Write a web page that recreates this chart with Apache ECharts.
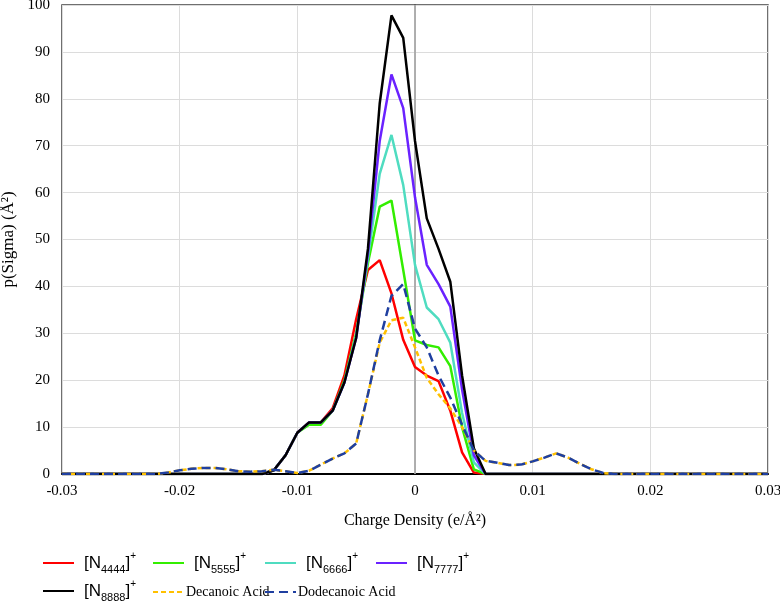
<!DOCTYPE html>
<html>
<head>
<meta charset="utf-8">
<script src="https://cdn.jsdelivr.net/npm/echarts@6/dist/echarts.min.js"></script>
<style>html,body{margin:0;padding:0;background:#fff}#c{width:780px;height:605px}</style>
</head>
<body>
<div id="c"></div>
<script>
// Charge density (e/Å²)
const sigma = [-0.030,-0.029,-0.028,-0.027,-0.026,-0.025,-0.024,-0.023,-0.022,-0.021,
  -0.020,-0.019,-0.018,-0.017,-0.016,-0.015,-0.014,-0.013,-0.012,-0.011,
  -0.010,-0.009,-0.008,-0.007,-0.006,-0.005,-0.004,-0.003,-0.002,-0.001,
  0.000,0.001,0.002,0.003,0.004,0.005,0.006,0.007,0.008,0.009,
  0.010,0.011,0.012,0.013,0.014,0.015,0.016,0.017,0.018,0.019,
  0.020,0.021,0.022,0.023,0.024,0.025,0.026,0.027,0.028,0.029,0.030];

const seriesNames = ['N4444','N5555','N6666','N7777','N8888','Decanoic Acid','Dodecanoic Acid'];

const n4444 = [0,0,0,0,0,0,0,0,0,0, 0,0,0,0,0,0,0,0,0.8,4,
  8.8,11,11,14,21,33,43.5,45.6,38.5,28.6,
  22.8,21,19.8,13.5,4.6,0.3,0,0,0,0, 0,0,0,0,0,0,0,0,0,0, 0,0,0,0,0,0,0,0,0,0,0];
const n5555 = [0,0,0,0,0,0,0,0,0,0, 0,0,0,0,0,0,0,0,0.8,4,
  8.8,10.5,10.5,13.5,20,30,45,57,58.3,43.5,
  28.5,27.5,27,23,10,1,0,0,0,0, 0,0,0,0,0,0,0,0,0,0, 0,0,0,0,0,0,0,0,0,0,0];
const n6666 = [0,0,0,0,0,0,0,0,0,0, 0,0,0,0,0,0,0,0,0.8,4,
  8.8,11,11,13.5,19.5,29.5,46,64,72.3,61.6,
  44.6,35.5,33,28,13,2.5,0,0,0,0, 0,0,0,0,0,0,0,0,0,0, 0,0,0,0,0,0,0,0,0,0,0];
const n7777 = [0,0,0,0,0,0,0,0,0,0, 0,0,0,0,0,0,0,0,0.8,4,
  8.8,11,11,13.5,19.5,29,47,71,85.2,78,
  59,44.6,40.5,35.7,18,4,0,0,0,0, 0,0,0,0,0,0,0,0,0,0, 0,0,0,0,0,0,0,0,0,0,0];
const n8888 = [0,0,0,0,0,0,0,0,0,0, 0,0,0,0,0,0,0,0,0.8,4,
  8.8,11,11,13.5,19.5,29,48,79,97.8,93,
  71,54.5,48,41,21,5.5,0,0,0,0, 0,0,0,0,0,0,0,0,0,0, 0,0,0,0,0,0,0,0,0,0,0];
const decanoic = [0,0,0,0,0,0,0,0,0,0.3, 0.8,1.1,1.3,1.3,1.0,0.6,0.5,0.6,0.9,0.6,
  0.2,0.7,2.0,3.3,4.4,6.5,17,28,32.8,33.3,
  27,20.5,17,14,10,5,2.8,2.4,1.9,2.0, 2.7,3.5,4.4,3.5,2.2,1.0,0.2,0,0,0, 0,0,0,0,0,0,0,0,0,0,0];
const dodecanoic = [0,0,0,0,0,0,0,0,0,0.3, 0.8,1.1,1.3,1.3,1.0,0.6,0.5,0.6,0.9,0.6,
  0.2,0.7,2.0,3.3,4.4,6.5,17,28.5,38,40.5,
  31,27,21,16.3,10.5,5,2.8,2.4,1.9,2.0, 2.7,3.5,4.4,3.5,2.2,1.0,0.2,0,0,0, 0,0,0,0,0,0,0,0,0,0,0];

const xTicks = ['-0.03','-0.02','-0.01','0','0.01','0.02','0.03'];

const values = [n4444,n5555,n6666,n7777,n8888,decanoic,dodecanoic];
const colors = ['#ff0000','#33ee00','#4fdcc0','#6a22ff','#000000','#ffc000','#1f3fa0'];
const dashes = ['solid','solid','solid','solid','solid',[5,3],[9,5]];

const serif = '"Liberation Serif","Times New Roman",serif';
const narrow = '"Liberation Sans Narrow","Liberation Sans",Arial,sans-serif';

const chart = echarts.init(document.getElementById('c'), null, {renderer:'canvas'});

const series = seriesNames.map((nm, i) => {
  const s = {
    name: nm, type: 'line', showSymbol: false, symbol: 'none',
    data: sigma.map((x, j) => [x, values[i][j]]),
    lineStyle: {color: colors[i], width: 2.5, type: dashes[i]},
    itemStyle: {color: colors[i]},
    z: 2 + i, animation: false
  };
  if (i === 0) {
    s.markLine = {silent: true, symbol: 'none', label: {show: false},
      lineStyle: {color: '#c4c4c4', width: 1.5, type: 'solid'},
      data: [{xAxis: 0}], z: 1};
  }
  return s;
});

const richLegend = {
  a: {fontFamily: narrow, fontSize: 17, lineHeight: 24, color: '#000'},
  s: {fontFamily: narrow, fontSize: 11, lineHeight: 11, verticalAlign: 'bottom', color: '#000'},
  p: {fontFamily: narrow, fontSize: 10, lineHeight: 10, verticalAlign: 'top', color: '#000'}
};
function ionFmt(name) {
  return '{a|[N}{s|' + name.slice(1) + '}{a|]}{p|+}';
}
const legendPos = [
  {left: 42, top: 551}, {left: 152, top: 551}, {left: 264, top: 551}, {left: 375, top: 551},
  {left: 42, top: 579}, {left: 152, top: 585}, {left: 264, top: 585}
];
const legends = seriesNames.map((nm, i) => {
  const ion = i < 5;
  return {
    data: [nm], left: legendPos[i].left, top: legendPos[i].top,
    orient: 'horizontal', itemWidth: 31, itemHeight: 12, padding: 0,
    selectedMode: false,
    itemStyle: {opacity: 0, borderWidth: 0},
    formatter: ion ? ionFmt : (n => n),
    textStyle: ion ? {fontFamily: narrow, fontSize: 17, color: '#000', rich: richLegend, padding: [0,0,0,5]}
                   : {fontFamily: serif, fontSize: 14, color: '#000', padding: [0,0,0,-3]}
  };
});

chart.setOption({
  animation: false,
  backgroundColor: '#ffffff',
  grid: {left: 62, right: 12, top: 5, bottom: 131, outerBoundsMode: 'none', containLabel: false,
    show: true, borderColor: '#404040', borderWidth: 1.5},
  legend: legends,
  xAxis: {
    type: 'value', min: -0.03, max: 0.03, interval: 0.01,
    name: 'Charge Density (e/Å²)', nameLocation: 'middle', nameGap: 39,
    nameTextStyle: {fontFamily: serif, fontSize: 16, color: '#000'},
    axisLine: {show: true, lineStyle: {color: '#000', width: 2}},
    axisTick: {show: false},
    axisLabel: {fontFamily: serif, fontSize: 15, color: '#000', margin: 10,
      formatter: v => xTicks[Math.round((v + 0.03) / 0.01)]},
    splitLine: {show: true, lineStyle: {color: '#dcdcdc', width: 1}}
  },
  yAxis: {
    type: 'value', min: 0, max: 100, interval: 10,
    name: 'p(Sigma) (Å²)', nameLocation: 'middle', nameGap: 40, nameRotate: 90,
    nameTextStyle: {fontFamily: serif, fontSize: 17, color: '#000'},
    axisLine: {show: true, lineStyle: {color: '#404040', width: 1.5}},
    axisTick: {show: false},
    axisLabel: {fontFamily: serif, fontSize: 15, color: '#000', margin: 12},
    splitLine: {show: true, lineStyle: {color: '#dcdcdc', width: 1}}
  },
  series: series
});
</script>
</body>
</html>
